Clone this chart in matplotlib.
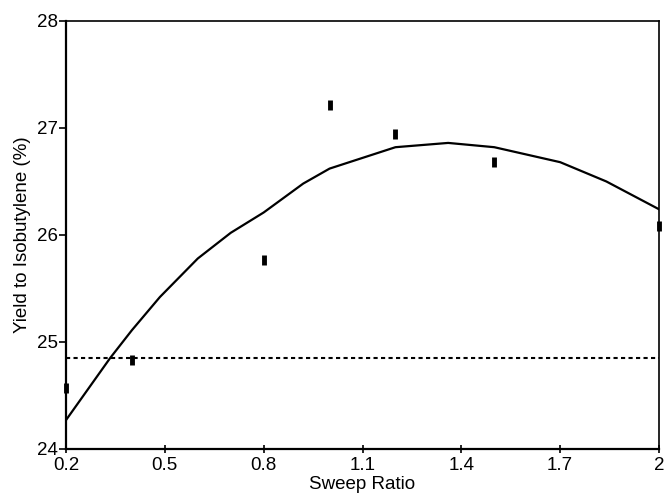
import numpy as np
import matplotlib
matplotlib.use('Agg')
import matplotlib.pyplot as plt

plt.rcParams['font.family'] = ['Liberation Sans', 'DejaVu Sans']

# measured yields
ratio = [0.2, 0.4, 0.8, 1.0, 1.2, 1.5, 2.0]
yield_pct = [24.57, 24.83, 25.77, 27.21, 26.94, 26.68, 26.08]

# fitted curve
curve_x = [0.2, 0.334, 0.4, 0.485, 0.6, 0.7, 0.8, 0.92, 1.0, 1.2, 1.36, 1.5, 1.7, 1.84, 2.0]
curve_y = [24.27, 24.85, 25.11, 25.42, 25.78, 26.02, 26.21, 26.48, 26.62, 26.82, 26.86, 26.82, 26.68, 26.50, 26.24]

# baseline (no sweep)
base_x = [0.2, 2.0]
base_y = [24.85, 24.85]

xticks = [0.2, 0.5, 0.8, 1.1, 1.4, 1.7, 2.0]
xlabels = ['0.2', '0.5', '0.8', '1.1', '1.4', '1.7', '2']
yticks = [24, 25, 26, 27, 28]

fig = plt.figure(figsize=(6.64, 4.98), dpi=100)
ax = fig.add_axes([0.0994, 0.0984, 0.8931, 0.8596])

ax.plot(curve_x, curve_y, color='black', linewidth=1.6)
ax.plot(base_x, base_y, color='black', linewidth=1.5, linestyle=(0, (2, 1.6)))
ax.plot(ratio, yield_pct, linestyle='none', marker='|', markersize=7,
        markeredgewidth=3.5, color='black', clip_on=False)

ax.set_xlim(0.2, 2.0)
ax.set_ylim(24, 28)
ax.set_xticks(xticks)
ax.set_xticklabels(xlabels)
ax.set_yticks(yticks)
ax.tick_params(axis='x', direction='inout', length=6, width=1.2, labelsize=13.5, pad=3)
ax.tick_params(axis='y', direction='out', length=5, width=1.2, labelsize=13.5, pad=1)

for side in ['left', 'bottom']:
    ax.spines[side].set_linewidth(1.6)
for side in ['top', 'right']:
    ax.spines[side].set_linewidth(1.2)

ax.set_xlabel('Sweep Ratio', fontsize=13.5, labelpad=1)
ax.set_ylabel('Yield to Isobutylene (%)', fontsize=13.5, labelpad=4)

fig.savefig('out.png', dpi=100)
